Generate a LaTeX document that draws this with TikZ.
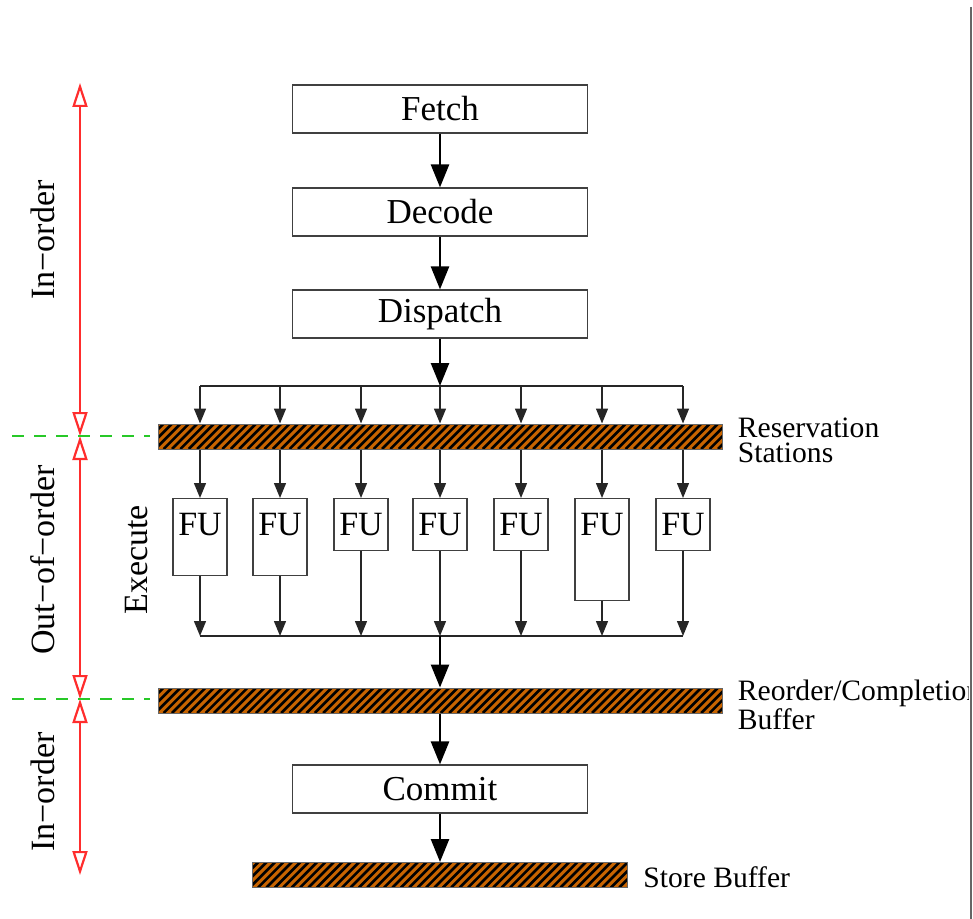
\documentclass[tikz,border=0pt]{standalone}
\usepackage{fontspec}
\setmainfont{Liberation Serif}
\usetikzlibrary{arrows.meta}
\definecolor{hatchbrown}{RGB}{200,100,0}
\definecolor{redarrow}{RGB}{255,45,45}
\definecolor{greendash}{RGB}{40,200,40}
\tikzset{
  stage/.style={draw=black!75, line width=0.6pt, minimum width=147.5pt, minimum height=24pt, inner sep=0pt, font=\fontsize{17.5}{20}\selectfont},
  fubox/.style={draw=black!75, line width=0.6pt, minimum width=27pt, inner sep=0pt, anchor=north},
  fulabel/.style={anchor=center, yshift=-13.5pt, inner sep=0pt, font=\fontsize{17}{20}\selectfont},
  bar/.style={draw=black!60, line width=0.5pt, fill=hatchbrown, minimum height=12.5pt, inner sep=0pt,
    path picture={\foreach \k in {0,...,74}{\draw[black, line width=1.3pt] ([xshift=\k*4.2pt-14pt]path picture bounding box.south west) -- ++(16pt,16pt);}}},
  thinline/.style={draw=black!85, line width=0.7pt},
  thinarrow/.style={thinline, -{Triangle[length=7.5pt,width=6pt]}},
  bigarrow/.style={draw=black, line width=1.3pt, -{Triangle[length=11.5pt,width=9pt]}},
  redarr/.style={draw=redarrow, line width=1.1pt, {Triangle[open,length=12pt,width=7.5pt]}-{Triangle[open,length=12pt,width=7.5pt]}},
  greenline/.style={draw=greendash, line width=1pt, dash pattern=on 6pt off 5pt},
  sidelabel/.style={inner sep=0pt, align=left, font=\fontsize{14.8}{12.5}\selectfont},
  phaselabel/.style={inner sep=0pt, rotate=90, font=\fontsize{17}{20}\selectfont}
}
\begin{document}
\begin{tikzpicture}[x=0.5pt,y=-0.5pt]
\useasboundingbox (0,0) rectangle (973,919);
% stages
\node[stage] (fetch) at (440,109) {Fetch};
\node[stage] (decode) at (440,212) {Decode};
\node[stage] (dispatch) at (440,314) {Dispatch};
\draw[bigarrow] (fetch.south) -- (decode.north);
\draw[bigarrow] (decode.south) -- (dispatch.north);
% distribution
\foreach \i/\x in {1/200,2/280,3/361,4/440,5/521,6/602,7/683}{\coordinate (d\i) at (\x,386);}
\draw[thinline] (d1) -- (d7);
\draw[bigarrow] (dispatch.south) -- (d4);
\node[bar, minimum width=282pt] (rs) at (440,436.5) {};
\foreach \i in {1,...,7}{\draw[thinarrow] (d\i) -- (d\i |- rs.north);}
% functional units
\foreach \i/\x/\h in {1/200/38.5,2/280/38.5,3/361/26,4/440/26,5/521/26,6/602/51,7/683/26}{
  \node[fubox, minimum height=\h pt, label={[fulabel]north:FU}] (fu\i) at (\x,498) {};
}
\foreach \i in {1,...,7}{\draw[thinarrow] (rs.south -| fu\i.north) -- (fu\i.north);}
\foreach \i/\x in {1/200,2/280,3/361,4/440,5/521,6/602,7/683}{\coordinate (c\i) at (\x,636);}
\foreach \i in {1,...,7}{\draw[thinarrow] (fu\i.south) -- (c\i);}
\draw[thinline] (c1) -- (c7);
% reorder buffer
\node[bar, minimum width=282pt] (rob) at (440,700.5) {};
\draw[bigarrow] (c4) -- (c4 |- rob.north);
\node[stage] (commit) at (440,789) {Commit};
\draw[bigarrow] (rob.south -| commit.north) -- (commit.north);
\node[bar, minimum width=187.5pt] (sb) at (440,875) {};
\draw[bigarrow] (commit.south) -- (sb.north);
% side labels
\node[sidelabel, anchor=west] (rslbl) at ([xshift=7.5pt,yshift=-2pt]rs.east) {Reservation\\Stations};
\node[sidelabel, anchor=west] (roblbl) at ([xshift=7.5pt,yshift=-2pt]rob.east) {Reorder/Completion\\Buffer};
\node[sidelabel, anchor=west] (sblbl) at ([xshift=7.5pt,yshift=-1pt]sb.east) {Store Buffer};
% phase arrows
\coordinate (a0) at (80,83);
\coordinate (a1) at (80,436);
\coordinate (a2) at (80,699);
\coordinate (a3) at (80,875);
\draw[redarr] (a0) -- (a1);
\draw[redarr] (a1) -- (a2);
\draw[redarr] (a2) -- (a3);
\coordinate (g1s) at (12,436);
\coordinate (g1e) at (150,436);
\coordinate (g2s) at (12,699);
\coordinate (g2e) at (150,699);
\draw[greenline] (g1s) -- (g1e);
\draw[greenline] (g2s) -- (g2e);
\node[phaselabel] (io1) at (43,240) {In−order};
\node[phaselabel] (ooo) at (43,560) {Out−of−order};
\node[phaselabel] (io2) at (43,792) {In−order};
\node[phaselabel] (exe) at (137,560) {Execute};
% right border
\fill[white] (969,0) rectangle (973,919);
\draw[black!60, line width=1pt] (971,7) -- (971,919);
\end{tikzpicture}
\end{document}
